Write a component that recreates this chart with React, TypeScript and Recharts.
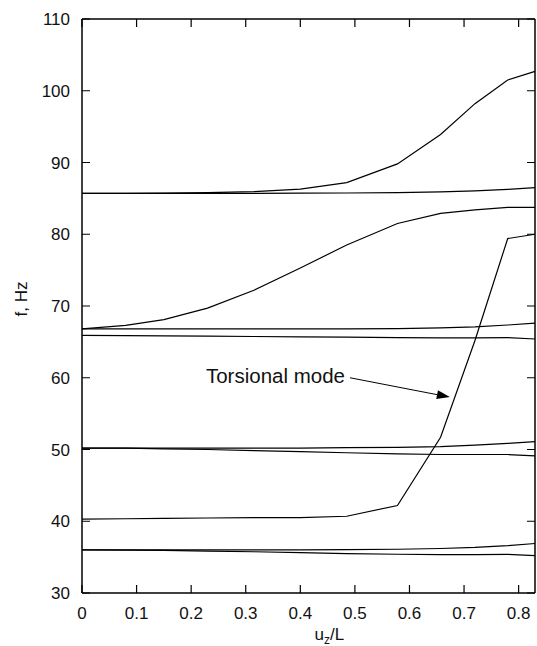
import { LineChart, Line, XAxis, YAxis, ReferenceLine } from 'recharts';

// displacement samples shared by every mode curve
const uzL = [0, 0.08, 0.15, 0.23, 0.315, 0.4, 0.485, 0.578, 0.657, 0.72, 0.78, 0.83];

// natural frequencies (Hz) per mode
const mode1a = [36.0, 36.0, 36.0, 36.0, 36.0, 36.0, 36.05, 36.1, 36.2, 36.35, 36.6, 36.9];
const mode1b = [36.0, 35.98, 35.93, 35.85, 35.75, 35.62, 35.5, 35.4, 35.35, 35.35, 35.38, 35.2];
const torsional = [40.3, 40.35, 40.4, 40.45, 40.5, 40.5, 40.7, 42.2, 51.7, 65.2, 79.4, 80.0];
const mode2a = [50.2, 50.2, 50.2, 50.2, 50.2, 50.2, 50.25, 50.3, 50.4, 50.6, 50.85, 51.1];
const mode2b = [50.2, 50.18, 50.1, 50.0, 49.85, 49.7, 49.55, 49.4, 49.3, 49.3, 49.3, 49.1];
const mode3a = [65.9, 65.88, 65.85, 65.8, 65.75, 65.7, 65.65, 65.6, 65.55, 65.55, 65.6, 65.4];
const mode3b = [66.8, 66.8, 66.8, 66.8, 66.8, 66.8, 66.82, 66.85, 66.95, 67.1, 67.35, 67.6];
const mode3c = [66.8, 67.3, 68.1, 69.7, 72.2, 75.3, 78.5, 81.5, 82.9, 83.4, 83.75, 83.75];
const mode4a = [85.7, 85.7, 85.7, 85.7, 85.7, 85.72, 85.75, 85.8, 85.9, 86.05, 86.25, 86.5];
const mode4b = [85.7, 85.7, 85.72, 85.8, 85.95, 86.3, 87.2, 89.8, 93.9, 98.2, 101.5, 102.7];

const seriesList = [mode1a, mode1b, torsional, mode2a, mode2b, mode3a, mode3b, mode3c, mode4a, mode4b];
const seriesKeys = seriesList.map((_, k) => 's' + k);

const xDomain = [0, 0.83];
const yDomain = [30, 110];
const xTicks = [0, 0.1, 0.2, 0.3, 0.4, 0.5, 0.6, 0.7, 0.8];
const yTicks = [30, 40, 50, 60, 70, 80, 90, 100, 110];

// annotation arrow, in data coordinates
const arrowSegment = [
  { x: 0.491, y: 60.0 },
  { x: 0.674, y: 57.3 },
];
const arrowText = 'Torsional mode';

const data = uzL.map((x, i) => {
  const row: Record<string, number> = { x };
  seriesList.forEach((s, k) => {
    row[seriesKeys[k]] = s[i];
  });
  return row;
});

const FONT = 'Liberation Sans, Arial, sans-serif';
const TICK_LEN = 8;

// everything passed to recharts is kept at module level so that props stay stable between renders
const MARGIN = { top: 19, right: 2, bottom: 0, left: 0 };
const AXIS_LINE = { stroke: '#000', strokeWidth: 1.5 };

function BottomTick(props: any) {
  const { x, y, payload } = props;
  return (
    <text x={x} y={y + 13.5} dy="0.71em" textAnchor="middle" fontSize={17} fontFamily={FONT} fill="#111">
      {payload.value}
    </text>
  );
}

function LeftTick(props: any) {
  const { x, y, payload } = props;
  return (
    <text x={x - 12} y={y} dy="0.36em" textAnchor="end" fontSize={17} fontFamily={FONT} fill="#111">
      {payload.value}
    </text>
  );
}

// inward tick marks at both ends of a vertical reference line
function vTickShape(props: any) {
  const { x1, y1, y2 } = props;
  const top = Math.min(y1, y2);
  const bot = Math.max(y1, y2);
  return (
    <path
      d={`M${x1},${top}L${x1},${top + TICK_LEN}M${x1},${bot}L${x1},${bot - TICK_LEN}`}
      stroke="#000"
      strokeWidth={1.2}
      fill="none"
    />
  );
}

// inward tick marks at both ends of a horizontal reference line
function hTickShape(props: any) {
  const { x1, x2, y1 } = props;
  const l = Math.min(x1, x2);
  const r = Math.max(x1, x2);
  return (
    <path
      d={`M${l},${y1}L${l + TICK_LEN},${y1}M${r},${y1}L${r - TICK_LEN},${y1}`}
      stroke="#000"
      strokeWidth={1.2}
      fill="none"
    />
  );
}

function XLabel(props: any) {
  const vb = props.viewBox || { x: 82, y: 593, width: 453 };
  return (
    <text x={vb.x + vb.width / 2 + 6} y={vb.y + 47} fontSize={17} fontFamily={FONT} fill="#111">
      <tspan>u</tspan>
      <tspan dy={4} fontSize={12}>z</tspan>
      <tspan dy={-4}>/L</tspan>
    </text>
  );
}

function YLabel(props: any) {
  const vb = props.viewBox || { x: 0, y: 19, width: 82, height: 574 };
  const cx = vb.x + 26.5;
  const cy = vb.y + vb.height / 2 - 7;
  return (
    <text
      x={cx}
      y={cy}
      textAnchor="middle"
      transform={`rotate(-90 ${cx} ${cy})`}
      fontSize={17}
      fontFamily={FONT}
      fill="#111"
    >
      f, Hz
    </text>
  );
}

function arrowShape(props: any) {
  const { x1, y1, x2, y2 } = props;
  const ang = Math.atan2(y2 - y1, x2 - x1);
  const len = 13;
  const half = 4.5;
  const bx = x2 - len * Math.cos(ang);
  const by = y2 - len * Math.sin(ang);
  const px = -Math.sin(ang) * half;
  const py = Math.cos(ang) * half;
  return (
    <g>
      <path d={`M${x1},${y1}L${bx},${by}`} stroke="#000" strokeWidth={1} fill="none" />
      <polygon points={`${x2},${y2} ${bx + px},${by + py} ${bx - px},${by - py}`} fill="#000" />
      <text x={x1 - 5} y={y1} dy="0.24em" textAnchor="end" fontSize={20.5} fontFamily={FONT} fill="#111">
        {arrowText}
      </text>
    </g>
  );
}

const BOTTOM_TICK = <BottomTick />;
const LEFT_TICK = <LeftTick />;
const X_LABEL = <XLabel />;
const Y_LABEL = <YLabel />;

export default function App() {
  return (
    <div style={{ position: 'absolute', left: 0, top: 0, background: '#fff' }}>
      <LineChart width={537} height={646} data={data} margin={MARGIN}>
        <XAxis
          dataKey="x"
          type="number"
          domain={xDomain}
          ticks={xTicks}
          interval={0}
          height={53}
          tickSize={0}
          tickMargin={0}
          tickLine={false}
          axisLine={AXIS_LINE}
          tick={BOTTOM_TICK}
          label={X_LABEL}
        />
        <YAxis
          type="number"
          domain={yDomain}
          ticks={yTicks}
          interval={0}
          width={82}
          tickSize={0}
          tickMargin={0}
          tickLine={false}
          axisLine={AXIS_LINE}
          tick={LEFT_TICK}
          label={Y_LABEL}
        />
        {seriesKeys.map((key) => (
          <Line
            key={key}
            type="linear"
            dataKey={key}
            stroke="#000"
            strokeWidth={1.2}
            dot={false}
            activeDot={false}
            isAnimationActive={false}
          />
        ))}

        {/* frame */}
        <ReferenceLine y={yDomain[1]} stroke="#000" strokeWidth={1.5} ifOverflow="visible" />
        <ReferenceLine x={xDomain[1]} stroke="#000" strokeWidth={1.5} ifOverflow="visible" />

        {/* inward ticks on all four sides */}
        {xTicks.map((t) => (
          <ReferenceLine key={'xt' + t} x={t} ifOverflow="visible" shape={vTickShape} />
        ))}
        {yTicks.map((t) => (
          <ReferenceLine key={'yt' + t} y={t} ifOverflow="visible" shape={hTickShape} />
        ))}

        <ReferenceLine segment={arrowSegment} ifOverflow="visible" shape={arrowShape} />
      </LineChart>
    </div>
  );
}
